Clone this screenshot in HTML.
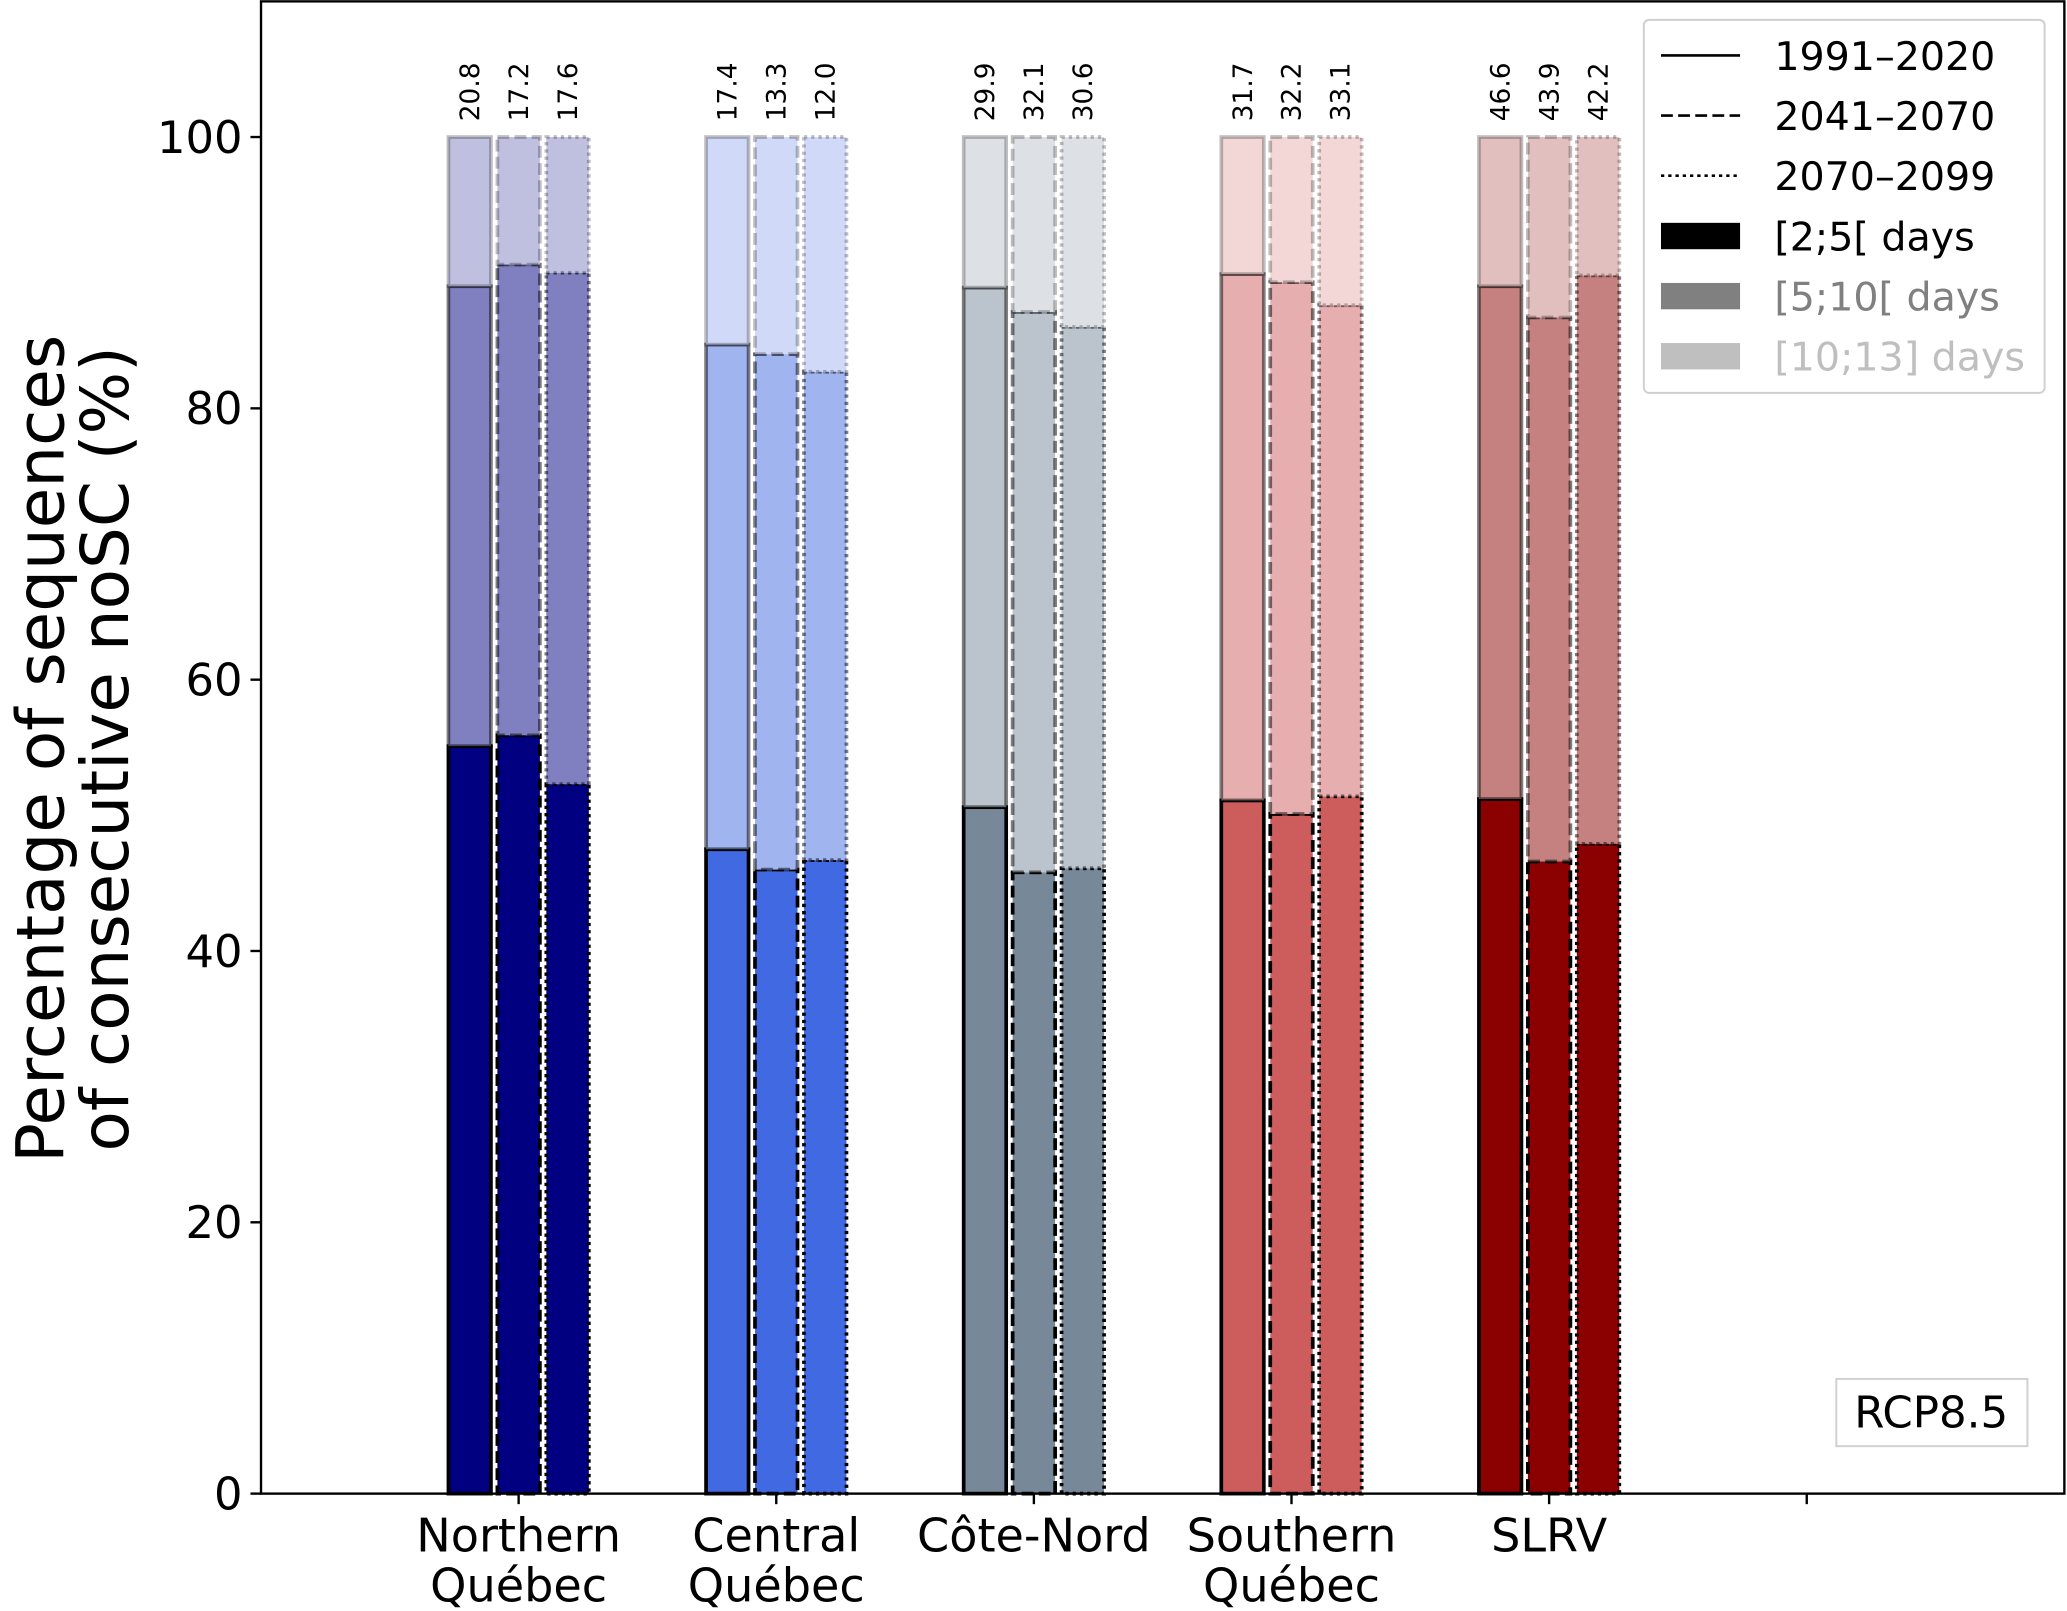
<!DOCTYPE html>
<html><head><meta charset="utf-8"><style>
html,body{margin:0;padding:0;background:#fff}
svg{display:block;font-family:"DejaVu Sans","Liberation Sans",sans-serif}
</style></head><body>
<svg id="chart" width="2067" height="1611" viewBox="0 0 1568 1222" xmlns="http://www.w3.org/2000/svg">
<g id="bars"></g>
<g id="axes"></g>
<g id="legend"></g>
</svg>
<script>
const regions = ["Northern\nQuébec","Central\nQuébec","Côte-Nord","Southern\nQuébec","SLRV"];
const shortSeg = [[55.1,55.9,52.3],[47.5,46.0,46.7],[50.6,45.8,46.1],[51.1,50.1,51.4],[51.2,46.6,47.9]];
const midSeg = [[33.9,34.7,37.7],[37.2,38.0,36.0],[38.3,41.3,39.9],[38.8,39.2,36.2],[37.8,40.1,41.9]];
const topLabels = [["20.8","17.2","17.6"],["17.4","13.3","12.0"],["29.9","32.1","30.6"],["31.7","32.2","33.1"],["46.6","43.9","42.2"]];
const yTicks = [0,20,40,60,80,100];
const periods = ["1991–2020","2041–2070","2070–2099"];
const baseColors = [[0,0,128],[65,105,225],[119,136,153],[205,92,92],[139,0,0]];

const NS="http://www.w3.org/2000/svg";
const X0=198,X1=1566,Y0=1133,YT=1;
const xs=v=>X0+(v+1)/7*(X1-X0);
const ys=v=>Y0-v/110*(Y0-YT);
const dashes=["","9,4","2.5,3"];
function mk(tag,attrs,parent){const e=document.createElementNS(NS,tag);for(const k in attrs)e.setAttribute(k,attrs[k]);parent.appendChild(e);return e;}
function mix(c,a){return "rgb("+c.map(v=>Math.round(v*a+255*(1-a))).join(",")+")";}
const gb=document.getElementById("bars"),ga=document.getElementById("axes"),gl=document.getElementById("legend");
const bw=0.165*(X1-X0)/7;
regions.forEach((r,i)=>{
  [0,1,2].forEach(j=>{
    const cx=xs(i+(j-1)*0.19);
    const a=shortSeg[i][j],b=a+midSeg[i][j];
    const segs=[[0,a,1,"rgba(0,0,0,1)"],[a,b,0.5,"rgba(0,0,0,0.5)"],[b,100,0.25,"rgba(0,0,0,0.25)"]];
    segs.forEach((s,k)=>{
      const rc=mk("rect",{x:cx-bw/2,y:ys(s[1]),width:bw,height:ys(s[0])-ys(s[1]),fill:mix(baseColors[i],s[2]),stroke:s[3],"stroke-width":2.8,"stroke-dasharray":dashes[j]},gb);
      
      
    });
    const t=mk("text",{x:0,y:0,transform:`translate(${cx+7},${ys(100)-12}) rotate(-90)`,"font-size":20},gb);
    
    
    t.textContent=topLabels[i][j];
  });
});
mk("rect",{x:X0,y:YT,width:X1-X0,height:Y0-YT,fill:"none",stroke:"#000","stroke-width":1.8},ga);
yTicks.forEach(v=>{
  mk("line",{x1:X0-8,x2:X0,y1:ys(v),y2:ys(v),stroke:"#000","stroke-width":1.8},ga);
  const t=mk("text",{x:X0-14,y:ys(v)+12,"text-anchor":"end","font-size":34},ga);
  
  
  t.textContent=v;
});
[0,1,2,3,4,5].forEach(i=>{
  mk("line",{x1:xs(i),x2:xs(i),y1:Y0,y2:Y0+8,stroke:"#000","stroke-width":1.8},ga);
  if(i<regions.length){
    regions[i].split("\n").forEach((ln,k)=>{
      const t=mk("text",{x:xs(i),y:1177+k*38,"text-anchor":"middle","font-size":35},ga);
      
      
      t.textContent=ln;
    });
  }
});
const yt=mk("text",{transform:"translate(48,568) rotate(-90)","text-anchor":"middle","font-size":50},ga);


yt.innerHTML='<tspan x="0" dy="0">Percentage of sequences</tspan><tspan x="0" dy="49">of consecutive noSC (%)</tspan>';
mk("rect",{x:1247,y:15,width:304,height:283,rx:4,fill:"#fff",stroke:"#d0d0d0","stroke-width":1.5},gl);
periods.forEach((p,k)=>{
  const y=42+k*45.6;
  mk("line",{x1:1260,x2:1320,y1:y,y2:y,stroke:"#000","stroke-width":2,"stroke-dasharray":dashes[k]},gl);
  const t=mk("text",{x:1346,y:y+11,"font-size":30},gl);
  
  
  t.textContent=p;
});
[["[2;5[ days",1],["[5;10[ days",0.5],["[10;13] days",0.25]].forEach((d,k)=>{
  const y=179+k*45.6;
  mk("rect",{x:1260,y:y-10,width:60,height:20,fill:mix([0,0,0],d[1])},gl);
  const t=mk("text",{x:1346,y:y+11,"font-size":30,fill:mix([0,0,0],d[1])},gl);
  
  
  t.textContent=d[0];
});
mk("rect",{x:1393,y:1046,width:145,height:51,fill:"#fff",stroke:"#d0d0d0","stroke-width":1.5},ga);
const rc=mk("text",{x:1465,y:1083,"text-anchor":"middle","font-size":33},ga);


rc.textContent="RCP8.5";
</script>
</body></html>
